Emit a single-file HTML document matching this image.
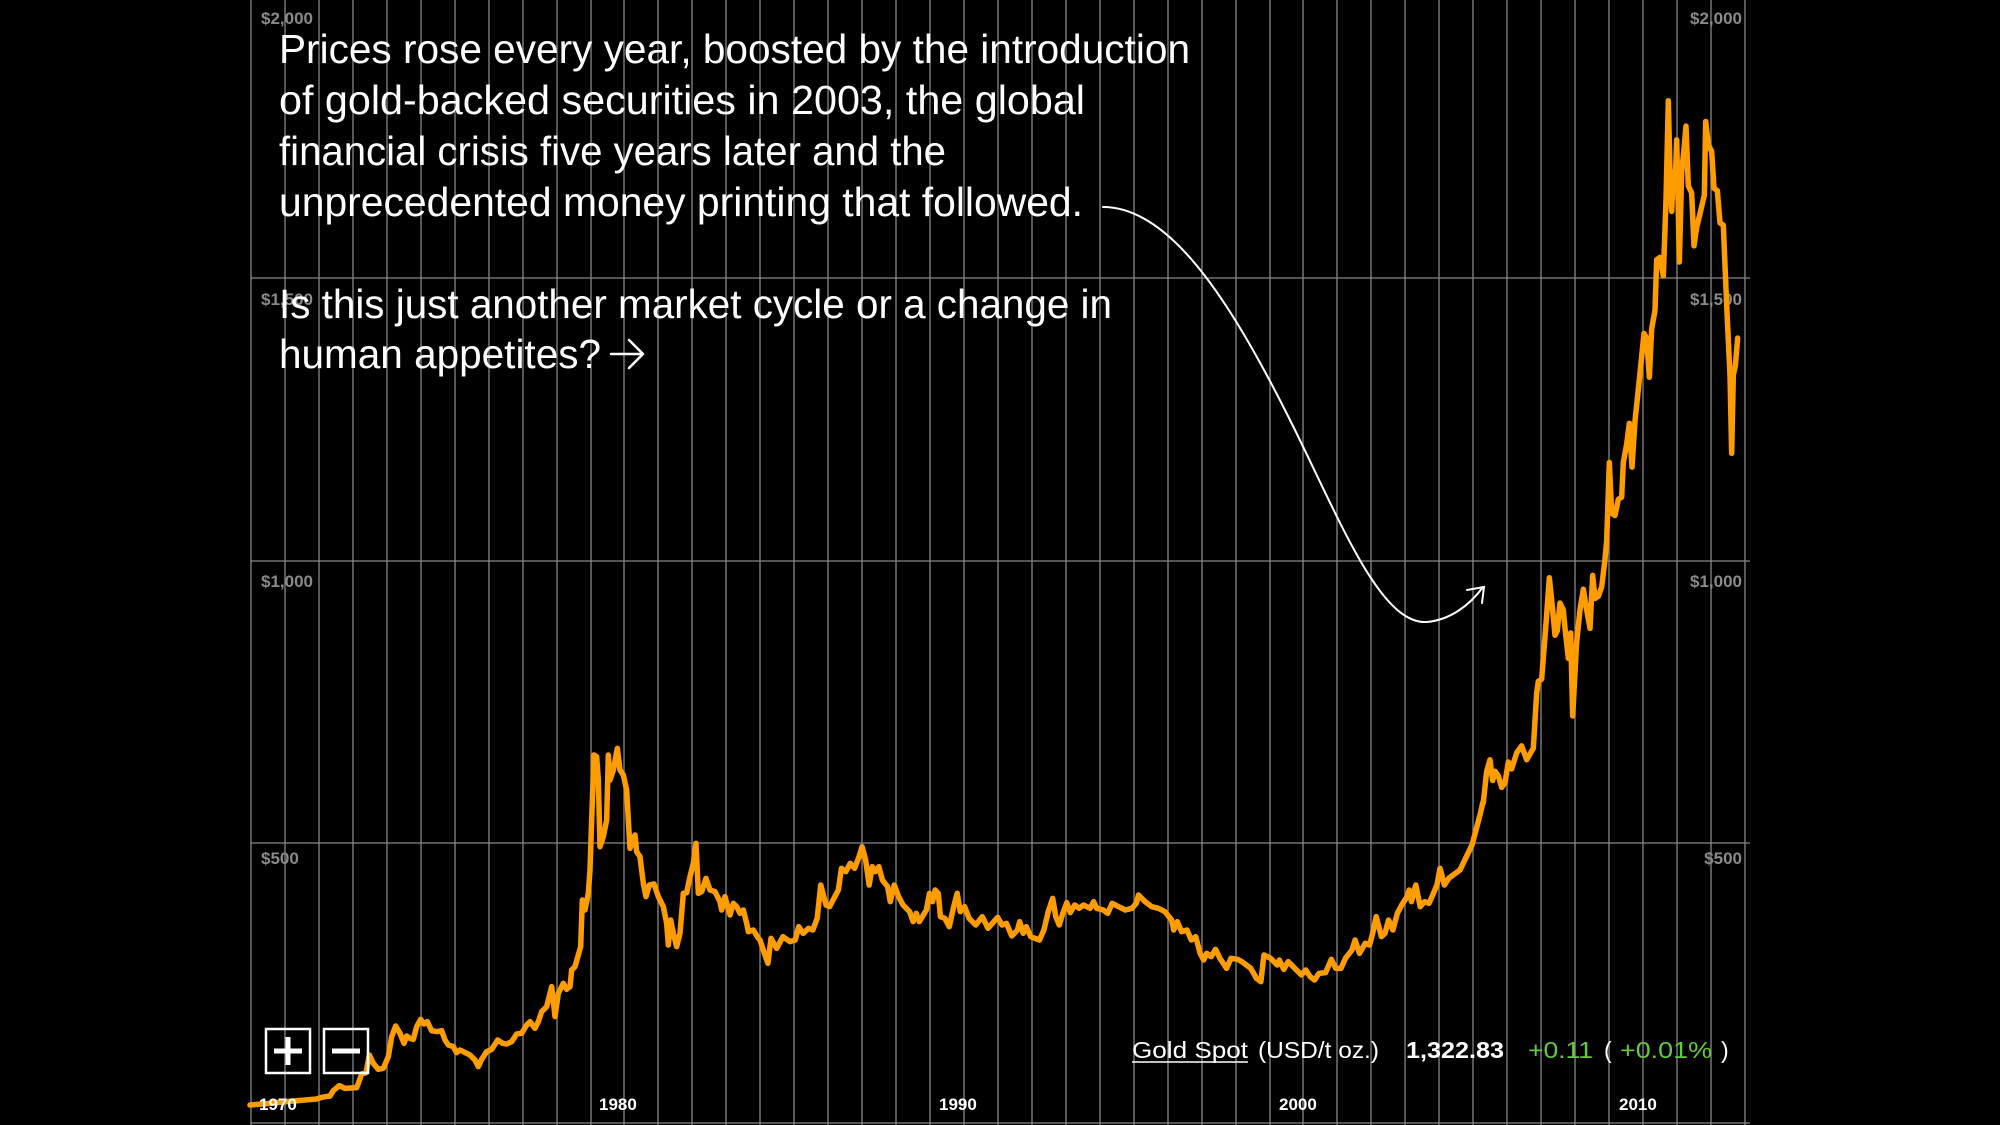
<!DOCTYPE html>
<html><head><meta charset="utf-8"><style>
html,body{margin:0;padding:0;background:#000;}
svg{display:block;}
</style></head><body>
<svg width="2000" height="1125" viewBox="0 0 2000 1125" xmlns="http://www.w3.org/2000/svg">
<rect width="2000" height="1125" fill="#000"/>
<g stroke="#888" stroke-width="1.3">
<line x1="251" y1="0" x2="251" y2="1125"/><line x1="285" y1="0" x2="285" y2="1125"/><line x1="319" y1="0" x2="319" y2="1125"/><line x1="353" y1="0" x2="353" y2="1125"/><line x1="387" y1="0" x2="387" y2="1125"/><line x1="421" y1="0" x2="421" y2="1125"/><line x1="455" y1="0" x2="455" y2="1125"/><line x1="489" y1="0" x2="489" y2="1125"/><line x1="523" y1="0" x2="523" y2="1125"/><line x1="557" y1="0" x2="557" y2="1125"/><line x1="591" y1="0" x2="591" y2="1125"/><line x1="624" y1="0" x2="624" y2="1125"/><line x1="658" y1="0" x2="658" y2="1125"/><line x1="692" y1="0" x2="692" y2="1125"/><line x1="726" y1="0" x2="726" y2="1125"/><line x1="760" y1="0" x2="760" y2="1125"/><line x1="794" y1="0" x2="794" y2="1125"/><line x1="828" y1="0" x2="828" y2="1125"/><line x1="862" y1="0" x2="862" y2="1125"/><line x1="896" y1="0" x2="896" y2="1125"/><line x1="930" y1="0" x2="930" y2="1125"/><line x1="964" y1="0" x2="964" y2="1125"/><line x1="998" y1="0" x2="998" y2="1125"/><line x1="1032" y1="0" x2="1032" y2="1125"/><line x1="1066" y1="0" x2="1066" y2="1125"/><line x1="1100" y1="0" x2="1100" y2="1125"/><line x1="1134" y1="0" x2="1134" y2="1125"/><line x1="1168" y1="0" x2="1168" y2="1125"/><line x1="1202" y1="0" x2="1202" y2="1125"/><line x1="1236" y1="0" x2="1236" y2="1125"/><line x1="1270" y1="0" x2="1270" y2="1125"/><line x1="1303" y1="0" x2="1303" y2="1125"/><line x1="1337" y1="0" x2="1337" y2="1125"/><line x1="1371" y1="0" x2="1371" y2="1125"/><line x1="1405" y1="0" x2="1405" y2="1125"/><line x1="1439" y1="0" x2="1439" y2="1125"/><line x1="1473" y1="0" x2="1473" y2="1125"/><line x1="1507" y1="0" x2="1507" y2="1125"/><line x1="1541" y1="0" x2="1541" y2="1125"/><line x1="1575" y1="0" x2="1575" y2="1125"/><line x1="1609" y1="0" x2="1609" y2="1125"/><line x1="1643" y1="0" x2="1643" y2="1125"/><line x1="1677" y1="0" x2="1677" y2="1125"/><line x1="1711" y1="0" x2="1711" y2="1125"/><line x1="1745" y1="0" x2="1745" y2="1125"/>
<line x1="251" y1="278" x2="1750" y2="278"/><line x1="251" y1="561" x2="1750" y2="561"/><line x1="251" y1="843" x2="1750" y2="843"/><line x1="251" y1="1123" x2="1750" y2="1123"/>
</g>
<g font-family="Liberation Sans, Arial, sans-serif" font-weight="bold" font-size="17" fill="#8a8a8a">
<text x="261" y="24">$2,000</text><text x="1742" y="24" text-anchor="end">$2,000</text>
<text x="261" y="305">$1,500</text><text x="1742" y="305" text-anchor="end">$1,500</text>
<text x="261" y="587">$1,000</text><text x="1742" y="587" text-anchor="end">$1,000</text>
<text x="261" y="864">$500</text><text x="1742" y="864" text-anchor="end">$500</text>
</g>
<g fill="none" stroke="#ff9c00" stroke-width="5.5" stroke-linejoin="round" stroke-linecap="round">
<g transform="translate(250,720) scale(0.33333,0.33333)">
<polyline vector-effect="non-scaling-stroke" points="0,1155 60,1150 130,1143 200,1137 215,1132 240,1128 250,1112 268,1097 285,1105 320,1103 325,1090 335,1062 348,1058 358,1005 370,1030 385,1048 400,1045 415,1010 425,950 437,918 450,940 462,970 470,948 480,955 490,958 500,920 512,898 522,912 532,905 545,932 560,935 575,932 585,960 595,975 610,980 620,998 630,990 640,995 660,1005 675,1020 685,1040 695,1018 710,995 725,988 743,960 758,970 770,972 785,965 800,942 815,940 830,915 840,905 855,925 865,905 875,875 890,860 905,800 915,890 925,820 940,790 950,808 960,800 965,750 975,740 992,680 997,540 1005,570 1015,520 1020,450 1025,300 1032,105 1040,110 1045,180 1050,380 1060,350 1070,300 1075,105 1080,180 1090,150 1102,85 1110,150 1120,165 1130,210 1135,300 1140,385 1150,360 1155,345 1160,395 1170,410 1180,490 1188,530 1198,495 1212,492 1225,530 1240,560 1250,610 1255,675 1262,600 1270,640 1280,680 1290,640 1300,520 1310,518 1320,470 1330,430 1338,370 1345,520 1355,515 1368,475 1380,510 1395,515 1410,545 1415,570 1425,530 1440,585 1450,550 1460,560 1470,580 1480,570 1490,610 1495,635 1510,630 1525,655"/>
</g>
<g transform="translate(760,720) scale(0.44014,0.33333)">
<polyline vector-effect="non-scaling-stroke" points="0,660 10,700 18,730 25,655 38,685 52,650 68,665 80,660 88,620 98,640 110,625 120,630 130,595 138,495 150,555 158,560 170,530 178,510 185,445 195,455 205,430 215,445 225,410 232,380 240,420 248,495 255,440 262,455 270,440 278,480 290,500 296,545 305,495 315,530 325,555 340,575 348,605 355,580 362,605 378,570 385,520 392,545 398,510 405,520 410,590 420,595 430,620 440,560 448,520 455,575 465,560 475,595 490,615 505,590 518,625 540,592 550,615 560,610 572,648 585,630 590,605 598,640 605,620 615,650 635,660 645,630 655,575 665,535 672,590 680,615 688,580 697,548 705,578 715,555 725,565 735,555 750,565 758,545 765,565 780,570 790,580 800,550 815,560 830,570 845,565 855,550 860,525 875,545 890,560 905,565 920,575 935,600 940,630 948,605 958,635 970,630 980,660 990,650 1000,700 1008,720 1015,700 1025,710 1035,688 1045,715 1060,745 1070,715 1085,718 1095,725 1105,735 1115,745 1128,775 1138,785 1145,705 1160,715 1175,735 1180,720 1190,748 1200,725 1215,745 1230,765 1240,750 1250,770 1260,780 1270,760 1285,758 1298,718 1308,745 1320,745 1330,715 1345,690 1352,660 1362,700 1375,670 1385,675 1392,640 1400,590 1412,650 1420,640 1428,600 1438,630 1448,580 1458,555 1470,530 1475,510 1480,545 1490,495 1500,560 1510,545 1520,550 1530,520 1538,495 1545,445 1555,495 1565,475"/>
</g>
<polyline points="1449,878 1460,870 1472,845 1480,815 1483,802"/>
<g transform="translate(1440,80) scale(0.33333,0.46083)">
<polyline vector-effect="non-scaling-stroke" points="130,1568 140,1500 150,1475 158,1520 165,1500 175,1510 185,1535 195,1525 205,1480 215,1495 230,1460 245,1445 260,1475 280,1450 290,1330 295,1305 305,1300 318,1180 328,1080 338,1150 345,1205 352,1195 360,1135 370,1150 375,1190 385,1255 392,1200 398,1380 410,1220 420,1150 430,1105 440,1150 450,1190 458,1075 465,1125 475,1120 485,1100 495,1040 500,1000 508,830 515,940 525,945 535,910 545,905 550,830 560,790 568,745 576,840 585,740 598,650 605,600 612,550 620,560 628,645 635,540 645,500 650,390 660,385 670,425 678,260 685,45 690,200 695,285 700,200 705,240 710,130 714,250 718,395 725,200 732,150 738,100 745,230 755,245 762,360 770,320 780,290 793,250 797,90 805,140 815,155 822,235 832,240 840,310 850,315 856,420 862,520 870,640 875,810 880,640 886,620 893,560"/>
</g>
</g>
<g font-family="Liberation Sans, Arial, sans-serif" font-size="41" fill="#fff">
<text x="279" y="63" textLength="911" lengthAdjust="spacingAndGlyphs">Prices rose every year, boosted by the introduction</text>
<text x="279" y="114" textLength="806" lengthAdjust="spacingAndGlyphs">of gold-backed securities in 2003, the global</text>
<text x="279" y="165" textLength="667" lengthAdjust="spacingAndGlyphs">financial crisis five years later and the</text>
<text x="279" y="216" textLength="804" lengthAdjust="spacingAndGlyphs">unprecedented money printing that followed.</text>
<text x="279" y="318" textLength="833" lengthAdjust="spacingAndGlyphs">Is this just another market cycle or a change in</text>
<text x="279" y="368" textLength="322" lengthAdjust="spacingAndGlyphs">human appetites?</text>
</g>
<g stroke="#fff" stroke-width="2.5" fill="none" stroke-linecap="round" stroke-linejoin="round">
<path d="M611,354 L642,354 M629,340 L643,354 L629,368"/>
</g>
<g stroke="#fff" stroke-width="2" fill="none" stroke-linecap="round">
<path d="M1103,207 C1170,207 1230,300 1290,420 C1340,520 1380,625 1427,622 C1450,620 1470,605 1483,587"/>
<path d="M1467,590 L1484,587 L1482,603"/>
</g>
<g fill="none" stroke="#fff" stroke-width="2.5">
<rect x="266" y="1029" width="44" height="44"/>
<rect x="324" y="1029" width="44" height="44"/>
</g>
<g fill="#fff">
<rect x="274" y="1048.5" width="28" height="5"/>
<rect x="285.5" y="1037" width="5" height="28"/>
<rect x="332" y="1048.5" width="28" height="5"/>
</g>
<g font-family="Liberation Sans, Arial, sans-serif" font-weight="bold" font-size="17" fill="#fff">
<text x="259" y="1110">1970</text>
<text x="599" y="1110">1980</text>
<text x="939" y="1110">1990</text>
<text x="1279" y="1110">2000</text>
<text x="1619" y="1110">2010</text>
</g>
<g font-family="Liberation Sans, Arial, sans-serif" font-size="23" fill="#fff">
<text x="1132" y="1058" textLength="116" lengthAdjust="spacingAndGlyphs">Gold Spot</text>
<line x1="1132" y1="1062" x2="1248" y2="1062" stroke="#fff" stroke-width="1.5"/>
<text x="1258" y="1058" textLength="121" lengthAdjust="spacingAndGlyphs">(USD/t oz.)</text>
<text x="1406" y="1058" font-weight="bold" textLength="98" lengthAdjust="spacingAndGlyphs">1,322.83</text>
<text x="1528" y="1058" fill="#62cc3a" textLength="65" lengthAdjust="spacingAndGlyphs">+0.11</text>
<text x="1604" y="1058">(</text>
<text x="1620" y="1058" fill="#62cc3a" textLength="92" lengthAdjust="spacingAndGlyphs">+0.01%</text>
<text x="1721" y="1058">)</text>
</g>
</svg>
</body></html>
